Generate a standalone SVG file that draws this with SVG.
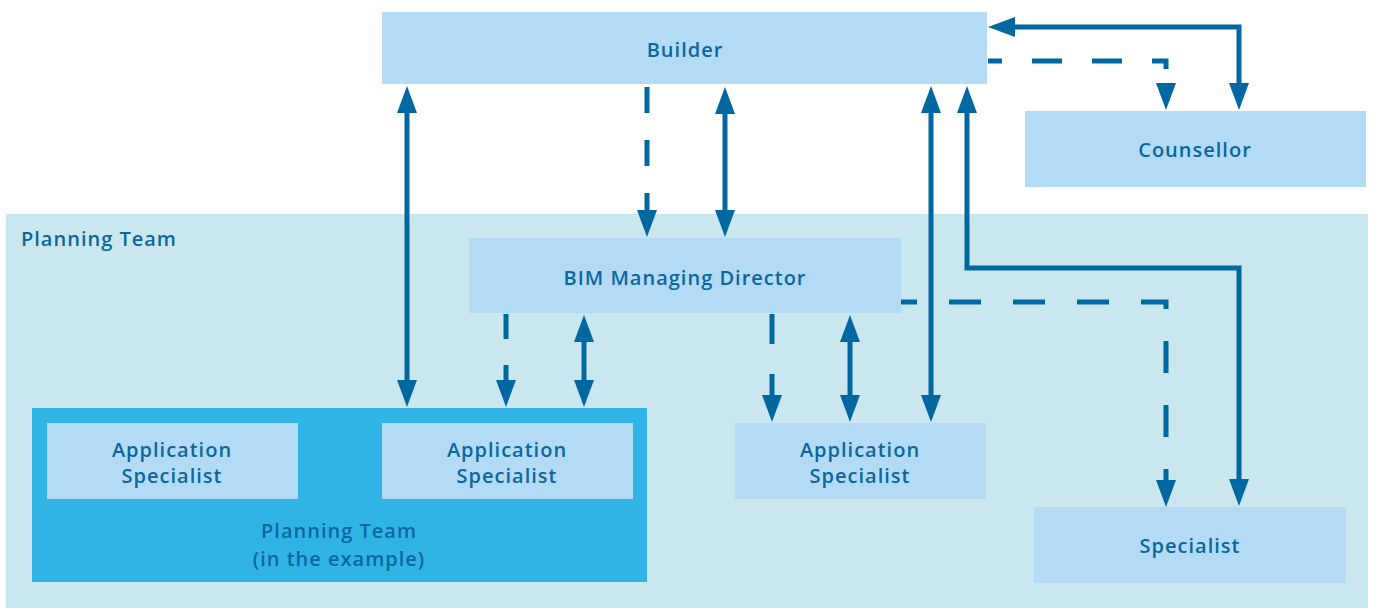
<svg xmlns="http://www.w3.org/2000/svg" width="1375" height="608" viewBox="0 0 1375 608">
<defs>
<style>
.bg{fill:#cae7f0}
.box{fill:#b3dbf5}
.team{fill:#30b4e6}
.t{font-family:"Open Sans","Liberation Sans",sans-serif;font-weight:600;font-size:20px;fill:#0a67a0;text-anchor:middle;letter-spacing:1px}
.tl{text-anchor:start}
.c{fill:none;stroke:#0068a1;stroke-width:5}
.a1{marker-end:url(#ah)}
.a2{marker-start:url(#ah);marker-end:url(#ah)}
</style>
<marker id="ah" markerUnits="userSpaceOnUse" markerWidth="27" markerHeight="20" viewBox="0 0 27 20" refX="0" refY="10" orient="auto-start-reverse">
<path d="M0,0L27,10L0,20z" fill="#0068a1"/>
</marker>
</defs>
<rect width="1375" height="608" fill="#ffffff"/>
<g id="planning-team-area">
<rect class="bg" x="6" y="214" width="1362" height="394"/>
<text class="t tl" x="21" y="246">Planning Team</text>
</g>
<g id="builder">
<rect class="box" x="382" y="12" width="605" height="72"/>
<text class="t" x="685" y="57">Builder</text>
</g>
<g id="counsellor">
<rect class="box" x="1025" y="111" width="341" height="76"/>
<text class="t" x="1195" y="157">Counsellor</text>
</g>
<g id="bim-director">
<rect class="box" x="469" y="238" width="432" height="75"/>
<text class="t" x="685" y="285">BIM Managing Director</text>
</g>
<g id="planning-team-example">
<rect class="team" x="32" y="408" width="615" height="174"/>
<text class="t" x="339" y="538">Planning Team</text>
<text class="t" x="339" y="566">(in the example)</text>
</g>
<g id="app-specialist-1">
<rect class="box" x="47" y="423" width="251" height="76"/>
<text class="t" x="172" y="457">Application</text>
<text class="t" x="172" y="483">Specialist</text>
</g>
<g id="app-specialist-2">
<rect class="box" x="382" y="423" width="251" height="76"/>
<text class="t" x="507" y="457">Application</text>
<text class="t" x="507" y="483">Specialist</text>
</g>
<g id="app-specialist-3">
<rect class="box" x="735" y="423" width="251" height="76"/>
<text class="t" x="860" y="457">Application</text>
<text class="t" x="860" y="483">Specialist</text>
</g>
<g id="specialist">
<rect class="box" x="1034" y="507" width="312" height="76"/>
<text class="t" x="1190" y="553">Specialist</text>
</g>
<g id="connectors">
<path class="c a2" d="M407,113V380"/>
<path class="c a1" d="M647,87V210" stroke-dasharray="26 27"/>
<path class="c a2" d="M725,114V210"/>
<path class="c a2" d="M931,113V395"/>
<path class="c a2" d="M967,113V268H1239V479"/>
<path class="c a2" d="M1015,27H1239V83"/>
<path class="c a1" d="M988,61H1166V83" stroke-dasharray="30 30 30 30 30 30 22 100" stroke-dashoffset="16"/>
<path class="c a1" d="M506,314V380" stroke-dasharray="25 26"/>
<path class="c a2" d="M584,342V380"/>
<path class="c a1" d="M772,314V395" stroke-dasharray="30 30"/>
<path class="c a2" d="M850,342V395"/>
<path class="c a1" d="M901,302H1166V480" stroke-dasharray="32 32" stroke-dashoffset="16"/>
</g>
</svg>
